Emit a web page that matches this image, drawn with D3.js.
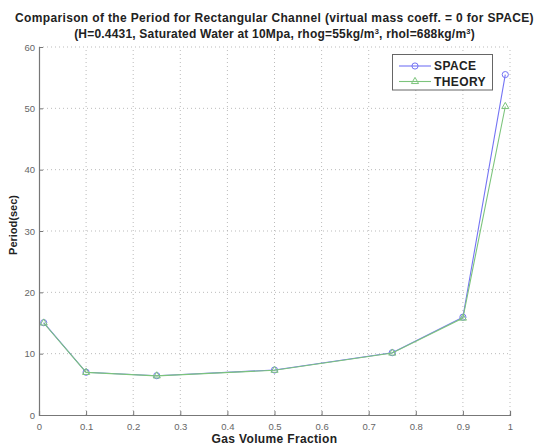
<!DOCTYPE html>
<html>
<head>
<meta charset="utf-8">
<script src="https://cdn.jsdelivr.net/npm/d3@7"></script>
<style>
  body { margin: 0; background: #fff; }
  text { font-family: 'Liberation Sans', Arial, sans-serif; }
</style>
</head>
<body>
<div id="chart"></div>
<script>
const gvf = [0.01, 0.1, 0.25, 0.5, 0.75, 0.9, 0.99]
const space = [15.05, 6.97, 6.41, 7.34, 10.16, 15.95, 55.5]
const theory = [15.0, 6.95, 6.38, 7.3, 10.1, 15.8, 50.3]
const xTicks = [0, 0.1, 0.2, 0.3, 0.4, 0.5, 0.6, 0.7, 0.8, 0.9, 1]
const yTicks = [0, 10, 20, 30, 40, 50, 60]

const W = 535, H = 446
const svg = d3.select('#chart').append('svg')
    .attr('width', W)
    .attr('height', H)

const x = d3.scaleLinear().domain([0, 1]).range([39, 510])
const y = d3.scaleLinear().domain([0, 60]).range([415, 47])

// grid
svg.append('g').selectAll('line').data(xTicks.slice(1))
    .enter().append('line')
    .attr('x1', d => x(d)).attr('x2', d => x(d))
    .attr('y1', y(0)).attr('y2', y(60))
    .attr('stroke', '#aaa').attr('stroke-width', 0.8)
    .attr('stroke-dasharray', '1,3')
svg.append('g').selectAll('line').data(yTicks.slice(1))
    .enter().append('line')
    .attr('x1', x(0)).attr('x2', x(1))
    .attr('y1', d => y(d)).attr('y2', d => y(d))
    .attr('stroke', '#aaa').attr('stroke-width', 0.8)
    .attr('stroke-dasharray', '1,3')

// axes
const xAxis = svg.append('g')
    .attr('transform', `translate(0,${y(0)})`)
    .call(d3.axisBottom(x).tickValues(xTicks).tickSize(-4).tickPadding(8).tickFormat(d3.format('')))
const yAxis = svg.append('g')
    .attr('transform', `translate(${x(0)},0)`)
    .call(d3.axisLeft(y).tickValues(yTicks).tickSize(-4).tickPadding(4))

for (const ax of [xAxis, yAxis]) {
    ax.select('.domain').attr('stroke', '#777').attr('stroke-width', 1.2)
    ax.selectAll('.tick line').attr('stroke', '#777')
    ax.selectAll('.tick text')
        .attr('fill', '#666')
        .attr('font-size', 9.5)
        .attr('font-family', 'Liberation Sans, Arial, sans-serif')
}

// series
const series = [
    { name: 'SPACE', values: space, color: '#7474f4', marker: 'circle' },
    { name: 'THEORY', values: theory, color: '#7cc47c', marker: 'triangle' }
]

const line = d3.line()
    .x((d, i) => x(gvf[i]))
    .y(d => y(d))

const circleSym = d3.symbol().type(d3.symbolCircle).size(30)
const triSym = d3.symbol().type(d3.symbolTriangle).size(22)

series.forEach(s => {
    svg.append('path')
        .attr('d', line(s.values))
        .attr('fill', 'none')
        .attr('stroke', s.color)
        .attr('stroke-width', 1.1)
    svg.append('g').selectAll('path').data(s.values)
        .enter().append('path')
        .attr('transform', (d, i) => `translate(${x(gvf[i])},${y(d)})`)
        .attr('d', s.marker === 'circle' ? circleSym() : triSym())
        .attr('fill', 'none')
        .attr('stroke', s.color)
        .attr('stroke-width', 1)
})

// legend
const lg = svg.append('g')
lg.append('rect')
    .attr('x', 392.5).attr('y', 54.5)
    .attr('width', 100).attr('height', 35.5)
    .attr('fill', '#fff')
    .attr('stroke', '#666').attr('stroke-width', 1)
series.forEach((s, i) => {
    const ly = 66 + i * 15.5
    lg.append('line')
        .attr('x1', 399).attr('x2', 431)
        .attr('y1', ly).attr('y2', ly)
        .attr('stroke', s.color).attr('stroke-width', 1.1)
    lg.append('path')
        .attr('transform', `translate(415,${ly})`)
        .attr('d', s.marker === 'circle' ? circleSym() : triSym())
        .attr('fill', 'none').attr('stroke', s.color)
    lg.append('text')
        .attr('x', 434).attr('y', ly)
        .attr('dy', '0.36em')
        .attr('font-size', 12).attr('font-weight', 'bold')
        .attr('letter-spacing', 0.4)
        .attr('fill', '#222')
        .text(s.name)
})

// titles
svg.append('text')
    .attr('x', 274.5).attr('y', 21.7)
    .attr('text-anchor', 'middle')
    .attr('font-size', 12).attr('font-weight', 'bold')
    .attr('letter-spacing', 0.35)
    .attr('fill', '#222')
    .text('Comparison of the Period for Rectangular Channel (virtual mass coeff. = 0 for SPACE)')

const t2 = svg.append('text')
    .attr('x', 274.5).attr('y', 37.8)
    .attr('text-anchor', 'middle')
    .attr('font-size', 12).attr('font-weight', 'bold')
    .attr('letter-spacing', 0.2)
    .attr('fill', '#222')
t2.append('tspan').text('(H=0.4431, Saturated Water at 10Mpa, rhog=55kg/m')
t2.append('tspan').attr('dy', -4).attr('font-size', 7.5).text('3')
t2.append('tspan').attr('dy', 4).text(', rhol=688kg/m')
t2.append('tspan').attr('dy', -4).attr('font-size', 7.5).text('3')
t2.append('tspan').attr('dy', 4).text(')')

svg.append('text')
    .attr('x', 274.5).attr('y', 443)
    .attr('text-anchor', 'middle')
    .attr('font-size', 12).attr('font-weight', 'bold')
    .attr('letter-spacing', 0.35)
    .attr('fill', '#222')
    .text('Gas Volume Fraction')

svg.append('text')
    .attr('transform', `translate(13,225) rotate(-90)`)
    .attr('dy', '0.36em')
    .attr('text-anchor', 'middle')
    .attr('font-size', 11).attr('font-weight', 'bold')
    .attr('fill', '#222')
    .text('Period(sec)')
</script>
</body>
</html>
